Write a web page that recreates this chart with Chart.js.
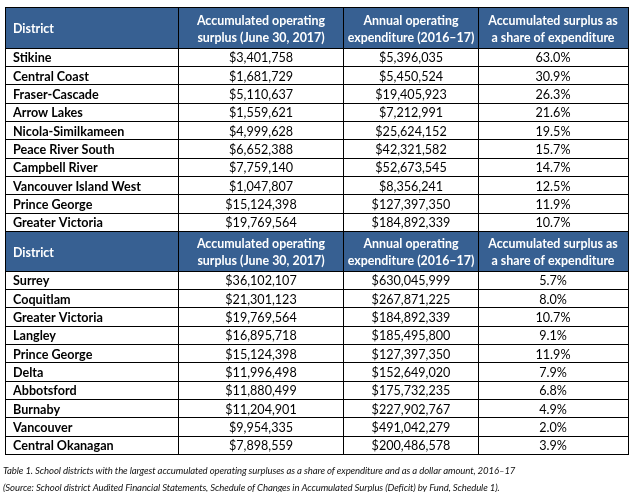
<!DOCTYPE html>
<html>
<head>
<meta charset="utf-8">
<script src="https://cdn.jsdelivr.net/npm/chart.js@4"></script>
<style>
body{margin:0;background:#fff;}
</style>
</head>
<body>
<canvas id="tableChart" width="633" height="492"></canvas>
<script>
// table contents
let headers = [
["District"],
["Accumulated operating","surplus (June 30, 2017)"],
["Annual operating","expenditure (2016\u201317)"],
["Accumulated surplus as","a share of expenditure"]
];
let districts1 = ["Stikine","Central Coast","Fraser-Cascade","Arrow Lakes","Nicola-Similkameen","Peace River South","Campbell River","Vancouver Island West","Prince George","Greater Victoria"];
let surplus1 = [3401758,1681729,5110637,1559621,4999628,6652388,7759140,1047807,15124398,19769564];
let expend1 = [5396035,5450524,19405923,7212991,25624152,42321582,52673545,8356241,127397350,184892339];
let share1 = [63.0,30.9,26.3,21.6,19.5,15.7,14.7,12.5,11.9,10.7];
let districts2 = ["Surrey","Coquitlam","Greater Victoria","Langley","Prince George","Delta","Abbotsford","Burnaby","Vancouver","Central Okanagan"];
let surplus2 = [36102107,21301123,19769564,16895718,15124398,11996498,11880499,11204901,9954335,7898559];
let expend2 = [630045999,267871225,184892339,185495800,127397350,152649020,175732235,227902767,491042279,200486578];
let share2 = [5.7,8.0,10.7,9.1,11.9,7.9,6.8,4.9,2.0,3.9];
let caption = [
"Table 1. School districts with the largest accumulated operating surpluses as a share of expenditure and as a dollar amount, 2016\u201317",
"(Source: School district Audited Financial Statements, Schedule of Changes in Accumulated Surplus (Deficit) by Fund, Schedule 1)."
];

// layout of the grid (scale units = px)
let colEdges = [0,173,339,473,623];
let headH1 = 41, headH2 = 39.5, rowH = 18.35;
let headerBlue = "#376092";
let bodyFont = "12.6px Lato";
let nameFont = "bold 12.6px Lato";
let headFont = "bold 12.4px Lato";

function money(v){
return "$" + v.toLocaleString("en-US");
}
function pct(v){
return v.toFixed(1) + "%";
}

// build row list: each with top/bottom in y units
let rows = [];
let y = 0;
function addHeader(h){
rows.push({type:"head", top:y, bottom:y+h});
y += h;
}
function addBody(names,s,e,p){
names.forEach((n,i)=>{
rows.push({type:"body", top:y, bottom:y+rowH, cells:[n,money(s[i]),money(e[i]),pct(p[i])]});
y += rowH;
});
}
addHeader(headH1);
addBody(districts1,surplus1,expend1,share1);
addHeader(headH2);
addBody(districts2,surplus2,expend2,share2);
let rowEdges = [0];
rows.forEach(r=>rowEdges.push(r.bottom));
let totalH = y;

let tablePlugin = {
id:"tablePlugin",
beforeDraw(chart){
let ctx = chart.ctx, xs = chart.scales.x, ys = chart.scales.y;
ctx.save();
ctx.fillStyle = headerBlue;
rows.forEach(r=>{
if(r.type!="head") return;
let x0 = xs.getPixelForValue(colEdges[0]), x1 = xs.getPixelForValue(colEdges[4]);
let y0 = ys.getPixelForValue(r.top), y1 = ys.getPixelForValue(r.bottom);
ctx.fillRect(x0,y0,x1-x0,y1-y0);
});
ctx.restore();
},
afterDatasetsDraw(chart){
let ctx = chart.ctx, xs = chart.scales.x, ys = chart.scales.y;
ctx.save();
ctx.textBaseline = "middle";
rows.forEach(r=>{
let yc = ys.getPixelForValue((r.top+r.bottom)/2);
for(let c=0;c<4;c++){
let left = xs.getPixelForValue(colEdges[c]);
let mid = xs.getPixelForValue((colEdges[c]+colEdges[c+1])/2);
let tx = c==0 ? left+8 : mid;
ctx.textAlign = c==0 ? "left" : "center";
if(r.type=="head"){
ctx.fillStyle = "#fff";
ctx.font = headFont;
let lines = headers[c];
lines.forEach((l,k)=>{
ctx.fillText(l, tx, yc + 1.5 + (k-(lines.length-1)/2)*17);
});
}else{
ctx.fillStyle = "#000";
ctx.font = c==0 ? nameFont : bodyFont;
ctx.fillText(r.cells[c], tx, yc+1);
}
}
});
// caption under the table
ctx.fillStyle = "#111";
ctx.font = "italic 9.6px Lato";
ctx.letterSpacing = "-0.12px";
ctx.textAlign = "left";
let b = ys.getPixelForValue(totalH);
ctx.fillText(caption[0], 3, b+16);
ctx.fillText(caption[1], 3, b+33);
ctx.restore();
}
};

new Chart(document.getElementById("tableChart"),{
type:"scatter",
data:{datasets:[{data:[], pointRadius:0}]},
options:{
responsive:false,
animation:false,
devicePixelRatio:1,
layout:{padding:{left:5,top:7,right:5,bottom:492-7-totalH}},
plugins:{legend:{display:false},tooltip:{enabled:false}},
scales:{
x:{
type:"linear", min:0, max:colEdges[4],
afterBuildTicks(scale){ scale.ticks = colEdges.map(v=>({value:v})); },
ticks:{display:false},
grid:{color:"#000", lineWidth:1, drawTicks:false},
border:{color:"#000"}
},
y:{
type:"linear", reverse:true, min:0, max:totalH,
afterBuildTicks(scale){ scale.ticks = rowEdges.map(v=>({value:v})); },
ticks:{display:false},
grid:{color:"#000", lineWidth:1, drawTicks:false},
border:{color:"#000"}
}
}
},
plugins:[tablePlugin]
});
</script>
</body>
</html>
